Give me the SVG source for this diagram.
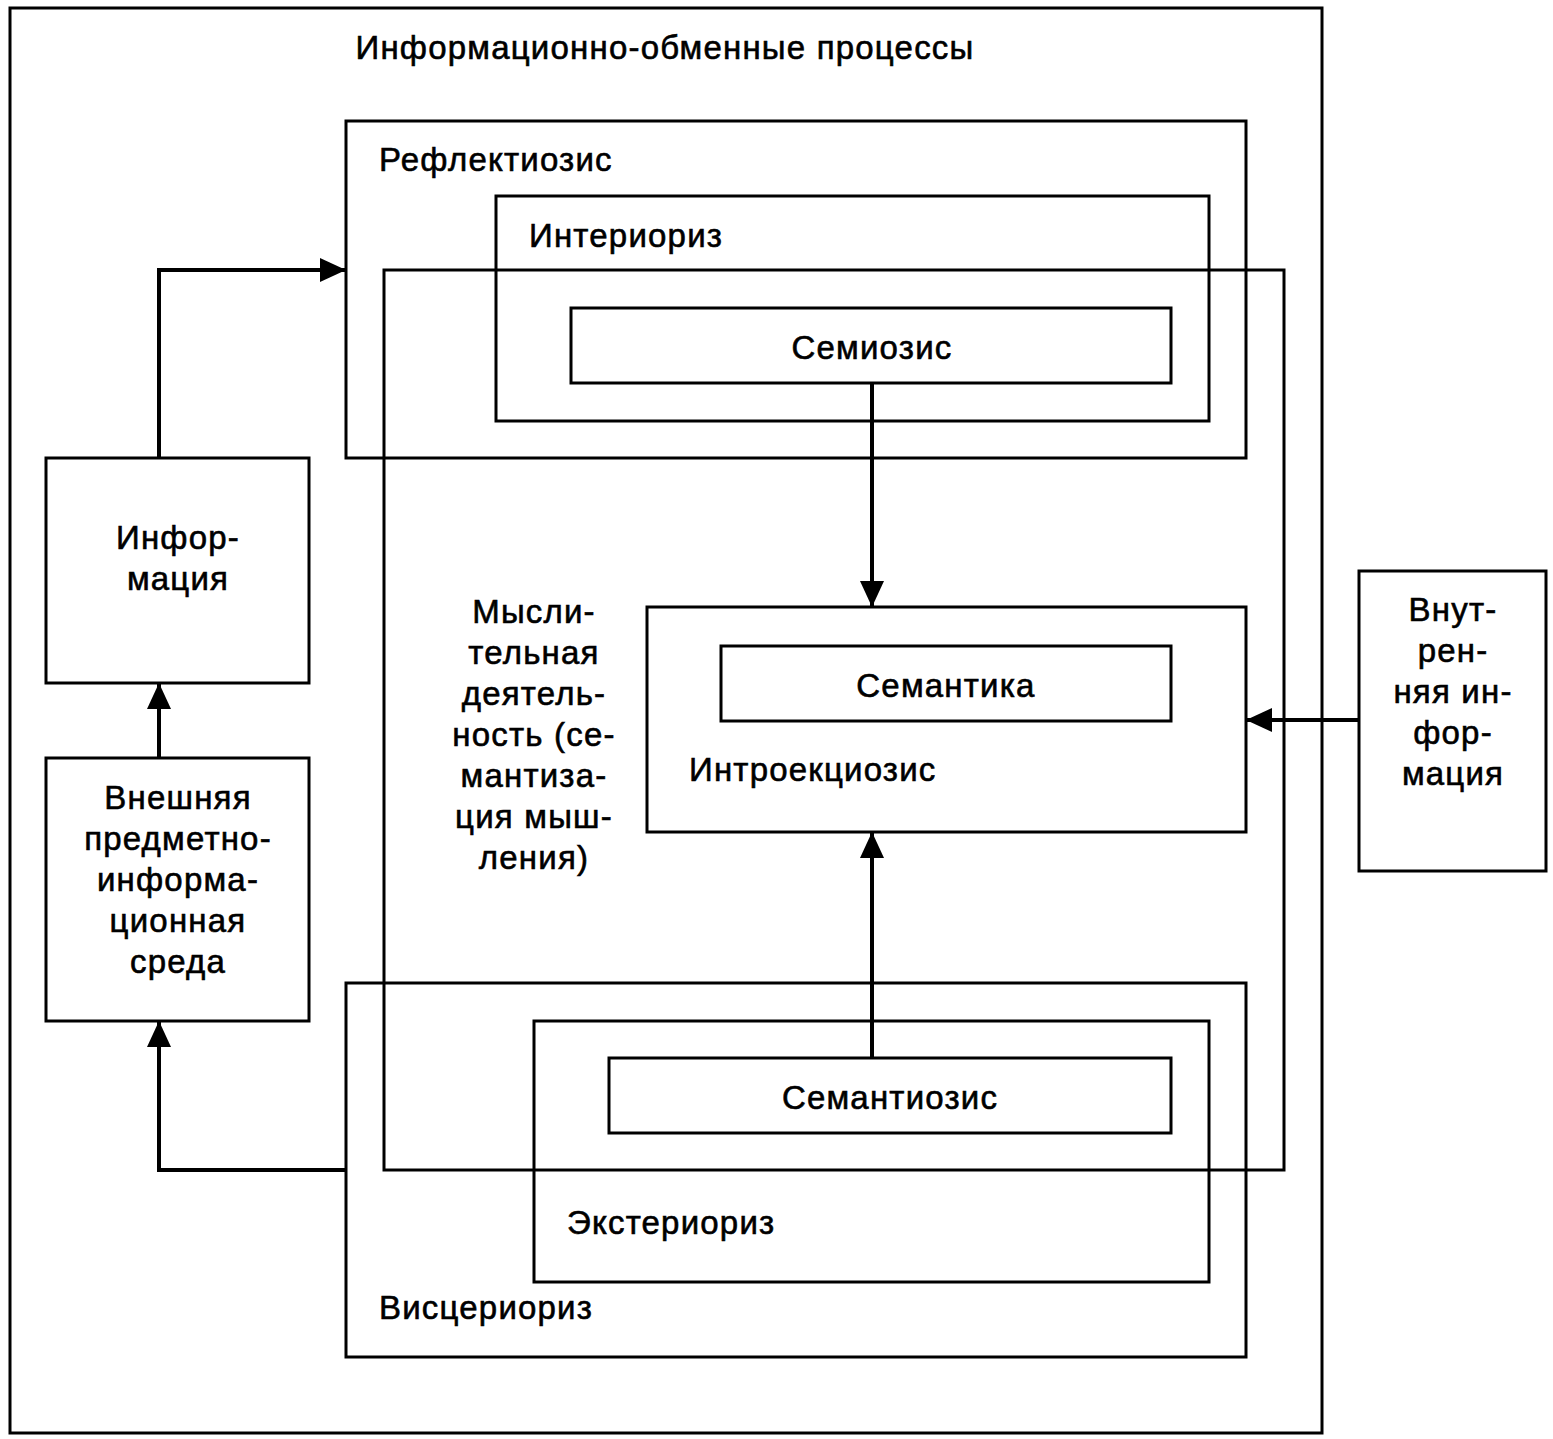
<svg xmlns="http://www.w3.org/2000/svg" width="1553" height="1439" viewBox="0 0 1553 1439">
<style>
rect{fill:none;stroke:#000;stroke-width:3}
text{font-family:"Liberation Sans",Arial,sans-serif;font-size:33px;letter-spacing:1.2px;fill:#000;stroke:#000;stroke-width:0.6}
.c{text-anchor:middle}
.l{stroke:#000;stroke-width:4;fill:none}
</style>
<defs><marker id="b" markerWidth="26" markerHeight="24" refX="26" refY="12" orient="auto" markerUnits="userSpaceOnUse"><path d="M0,0L26,12L0,24z"/></marker></defs>
<rect id="outer" x="10" y="8" width="1312" height="1425"/>
<text x="665" y="59" class="c">Информационно-обменные процессы</text>
<g id="reflekt"><rect x="346" y="121" width="900" height="337"/><text x="379" y="171">Рефлектиозис</text></g>
<g id="interior"><rect x="496" y="196" width="713" height="225"/><text x="529" y="247">Интериориз</text></g>
<g id="mysl"><rect x="384" y="270" width="900" height="900"/>
<text class="c" x="534" y="623">Мысли-</text><text class="c" x="534" y="664">тельная</text><text class="c" x="534" y="705">деятель-</text><text class="c" x="534" y="746">ность (се-</text><text class="c" x="534" y="787">мантиза-</text><text class="c" x="534" y="828">ция мыш-</text><text class="c" x="534" y="869">ления)</text></g>
<g id="semiosis"><rect x="571" y="308" width="600" height="75"/><text class="c" x="872" y="359">Семиозис</text></g>
<g id="introek"><rect x="647" y="607" width="599" height="225"/><text x="689" y="781">Интроекциозис</text></g>
<g id="semantika"><rect x="721" y="646" width="450" height="75"/><text class="c" x="946" y="697">Семантика</text></g>
<g id="visc"><rect x="346" y="983" width="900" height="374"/><text x="379" y="1319">Висцериориз</text></g>
<g id="exter"><rect x="534" y="1021" width="675" height="261"/><text x="567" y="1234">Экстериориз</text></g>
<g id="semantiosis"><rect x="609" y="1058" width="562" height="75"/><text class="c" x="890" y="1109">Семантиозис</text></g>
<g id="info"><rect x="46" y="458" width="263" height="225"/><text class="c" x="178" y="549">Инфор-</text><text class="c" x="178" y="590">мация</text></g>
<g id="vnesh"><rect x="46" y="758" width="263" height="263"/><text class="c" x="178" y="809">Внешняя</text><text class="c" x="178" y="850">предметно-</text><text class="c" x="178" y="891">информа-</text><text class="c" x="178" y="932">ционная</text><text class="c" x="178" y="973">среда</text></g>
<g id="vnutr"><rect x="1359" y="571" width="187" height="300"/><text class="c" x="1453" y="621">Внут-</text><text class="c" x="1453" y="662">рен-</text><text class="c" x="1453" y="703">няя ин-</text><text class="c" x="1453" y="744">фор-</text><text class="c" x="1453" y="785">мация</text></g>
<g id="connectors">
<path class="l" d="M872,383V607" marker-end="url(#b)"/>
<path class="l" d="M872,1058V832" marker-end="url(#b)"/>
<path class="l" d="M159,758V683" marker-end="url(#b)"/>
<path class="l" d="M346,1170H159V1021" marker-end="url(#b)"/>
<path class="l" d="M159,458V270H346" marker-end="url(#b)"/>
<path class="l" d="M1359,720H1246" marker-end="url(#b)"/>
</g>
</svg>
